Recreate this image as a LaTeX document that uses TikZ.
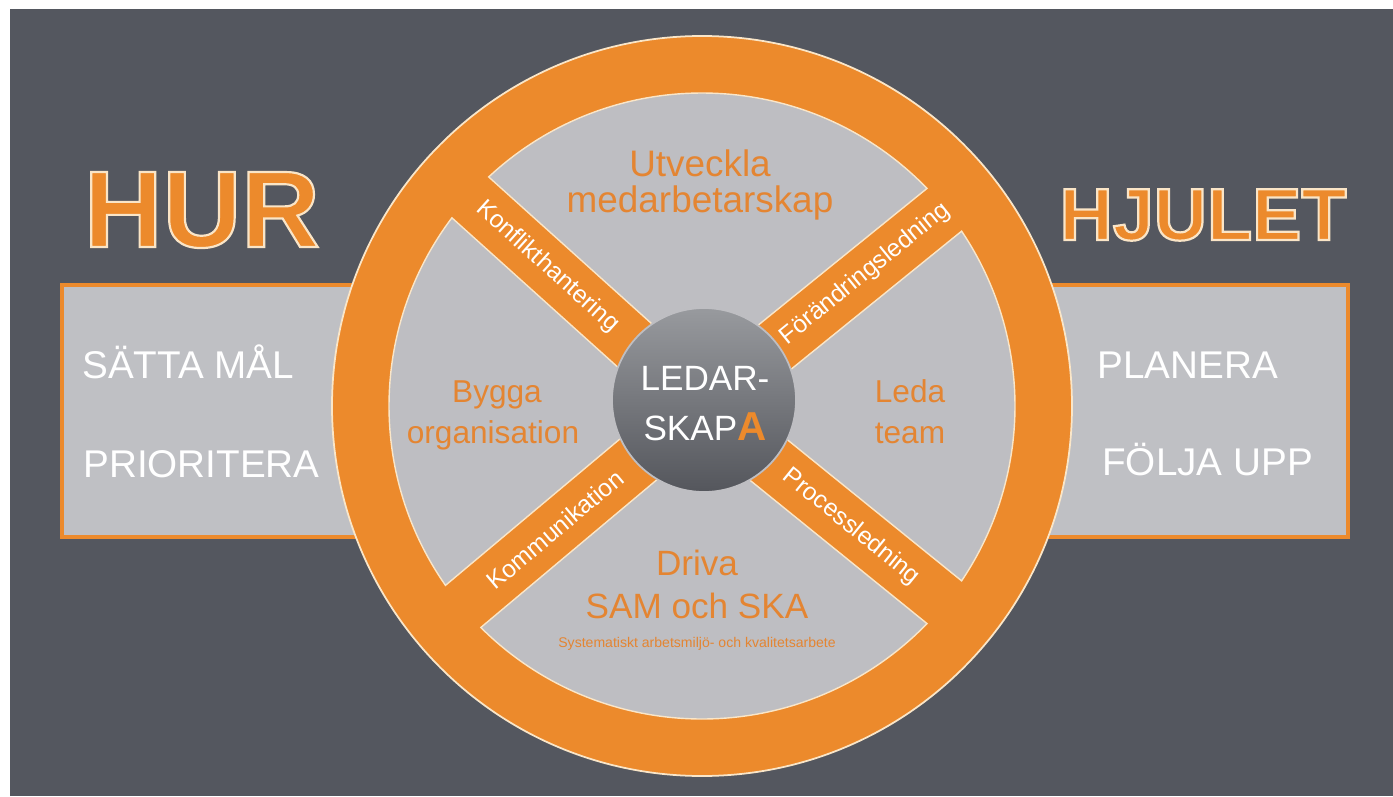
\documentclass[tikz,border=0pt]{standalone}
\usepackage{fontspec}
\setmainfont{Liberation Sans}
\definecolor{bggrey}{RGB}{84,87,95}
\definecolor{wheelorange}{RGB}{236,138,44}
\definecolor{sectorgrey}{RGB}{190,190,194}
\definecolor{boxgrey}{RGB}{191,192,196}
\definecolor{cream}{RGB}{250,230,200}
\definecolor{textorange}{RGB}{228,133,50}
\definecolor{hubtop}{RGB}{152,154,158}
\definecolor{hubbot}{RGB}{84,86,92}
\newcommand{\rimtext}[2]{{\addfontfeature{FakeBold=#1}\special{pdf:literal direct 0.98 0.90 0.78 RG}#2}}

\begin{document}
\begin{tikzpicture}[x=0.02cm,y=0.02cm,
  infobox/.style={fill=boxgrey,draw=wheelorange,line width=2.3pt},
  sector/.style={fill=sectorgrey,draw=cream,line width=0.8pt},
  title/.style={anchor=base,text=wheelorange,inner sep=0pt},
  boxtext/.style={anchor=base west,text=white,inner sep=0pt,font=\fontsize{22}{22}\selectfont},
  wheeltext/.style={anchor=base,text=textorange,inner sep=0pt},
  spoke/.style={text=white,inner sep=0pt,font=\fontsize{14}{14}\selectfont}]
\useasboundingbox (0,0) rectangle (1393,796);
\coordinate (o) at (702,390);
\coordinate (h) at (704,396);
\pgfmathsetmacro{\ro}{370}
\pgfmathsetmacro{\ri}{313}
\pgfmathsetmacro{\hw}{27.5}
\pgfmathsetmacro{\dl}{asin(\hw/\ri)}

 \fill[white] (0,0) rectangle (1393,796);
 \fill[bggrey] (10,0) rectangle (1393,787);
 \filldraw[infobox] (62,259) rectangle (420,511);
 \filldraw[infobox] (990,259) rectangle (1348,511);

 \filldraw[fill=wheelorange,draw=cream,line width=1pt] (o) circle[radius=\ro];
 \foreach \s/\e in {-39/39,39/138,138/220,220/321}{
   \pgfmathsetmacro{\m}{(\s+\e)/2}
   \pgfmathsetmacro{\ad}{\hw/sin((\e-\s)/2)}
   \filldraw[sector] ([shift={(\m:\ad)}]o) -- ([shift={(\s+\dl:\ri)}]o)
     arc[start angle=\s+\dl, end angle=\e-\dl, radius=\ri] -- cycle;
 }
 \shadedraw[top color=hubtop,bottom color=hubbot,draw=sectorgrey,line width=1pt] (h) circle[radius=92];

 \node[title,font=\bfseries\fontsize{62}{62}\selectfont] (hur) at (202,549) {\rimtext{2}{HUR}};
 \node[title,font=\bfseries\fontsize{42}{42}\selectfont] (hjulet) at (1203,556) {\rimtext{3}{HJULET}};

 \node[boxtext] (mal) at (82,418) {SÄTTA MÅL};
 \node[boxtext] (prio) at (83,319) {PRIORITERA};
 \node[boxtext] (plan) at (1097,418) {PLANERA};
 \node[boxtext] (folj) at (1102,321) {FÖLJA UPP};

 \node[wheeltext,font=\fontsize{21}{21}\selectfont] (utv) at (700,620) {Utveckla};
 \node[wheeltext,font=\fontsize{21}{21}\selectfont] (med) at (700,583) {medarbetarskap};
 \node[wheeltext,font=\fontsize{18}{18}\selectfont] (bygg) at (497,394) {Bygga};
 \node[wheeltext,font=\fontsize{18}{18}\selectfont] (org) at (493,353) {organisation};
 \node[wheeltext,font=\fontsize{18}{18}\selectfont] (leda) at (910,394) {Leda};
 \node[wheeltext,font=\fontsize{18}{18}\selectfont] (team) at (910,353) {team};
 \node[wheeltext,font=\fontsize{20}{20}\selectfont] (driv) at (697,221) {Driva};
 \node[wheeltext,font=\fontsize{20}{20}\selectfont] (sam) at (697,178) {SAM och SKA};
 \node[wheeltext,font=\fontsize{8}{8}\selectfont] (syst) at (697,149) {Systematiskt arbetsmiljö- och kvalitetsarbete};

 \node[spoke,rotate=-42] (konf) at ([shift={(138:208)}]o) {Konflikthantering};
 \node[spoke,rotate=39] (forand) at ([shift={(39:210)}]o) {Förändringsledning};
 \node[spoke,rotate=40] (komm) at ([shift={(220:192)}]o) {Kommunikation};
 \node[spoke,rotate=-39] (proc) at ([shift={(-39:192)}]o) {Processledning};

 \node[anchor=base,text=white,font=\fontsize{20}{20}\selectfont] (ledar) at (705,406) {LEDAR-};
 \node[anchor=base,text=white,font=\fontsize{20}{20}\selectfont] (skapa) at (705,356)
   {SKAP{\color{wheelorange}\bfseries\fontsize{23}{23}\selectfont A}};
\end{tikzpicture}
\end{document}
